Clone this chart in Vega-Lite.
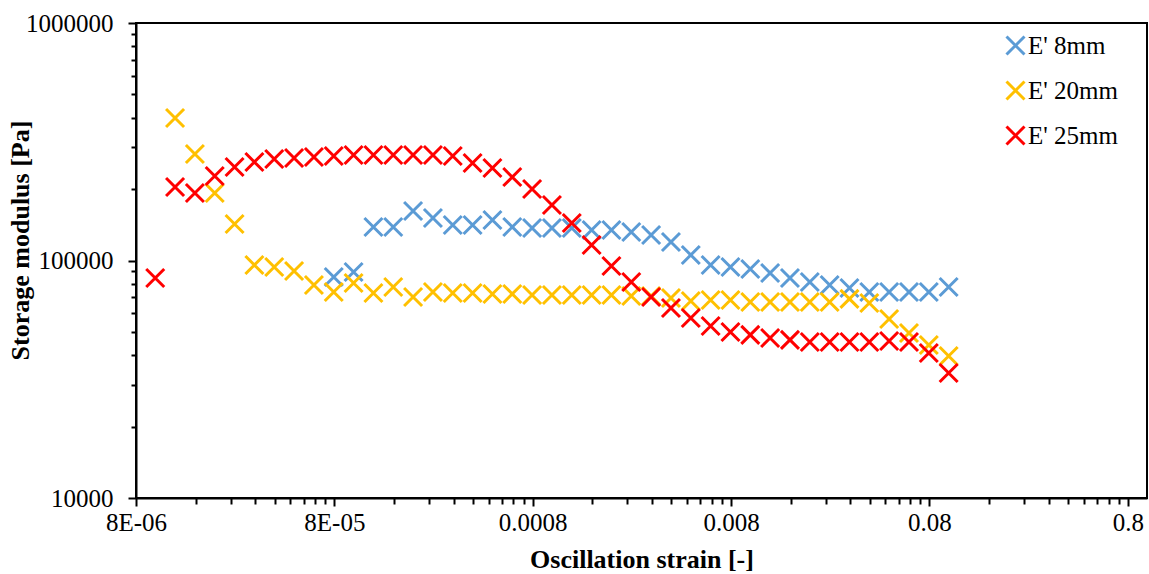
{
  "$schema": "https://vega.github.io/schema/vega-lite/v6.json",
  "width": 1011,
  "height": 475,
  "autosize": "none",
  "padding": {"left": 136, "top": 23, "right": 2, "bottom": 76},
  "background": "white",
  "config": {
    "view": {"stroke": "black", "strokeWidth": 2},
    "font": "Liberation Serif"
  },
  "data": {
    "values": [
      {"s": "E' 8mm", "x": 7.943e-5, "y": 85200},
      {"s": "E' 8mm", "x": 1.000e-4, "y": 89500},
      {"s": "E' 8mm", "x": 1.259e-4, "y": 138400},
      {"s": "E' 8mm", "x": 1.585e-4, "y": 138400},
      {"s": "E' 8mm", "x": 1.995e-4, "y": 161600},
      {"s": "E' 8mm", "x": 2.512e-4, "y": 151000},
      {"s": "E' 8mm", "x": 3.162e-4, "y": 141100},
      {"s": "E' 8mm", "x": 3.981e-4, "y": 141100},
      {"s": "E' 8mm", "x": 5.012e-4, "y": 148100},
      {"s": "E' 8mm", "x": 6.310e-4, "y": 138400},
      {"s": "E' 8mm", "x": 7.943e-4, "y": 137000},
      {"s": "E' 8mm", "x": 1.000e-3, "y": 137000},
      {"s": "E' 8mm", "x": 1.259e-3, "y": 137000},
      {"s": "E' 8mm", "x": 1.585e-3, "y": 134400},
      {"s": "E' 8mm", "x": 1.995e-3, "y": 134400},
      {"s": "E' 8mm", "x": 2.512e-3, "y": 131800},
      {"s": "E' 8mm", "x": 3.162e-3, "y": 128000},
      {"s": "E' 8mm", "x": 3.981e-3, "y": 119600},
      {"s": "E' 8mm", "x": 5.012e-3, "y": 105500},
      {"s": "E' 8mm", "x": 6.310e-3, "y": 95700},
      {"s": "E' 8mm", "x": 7.943e-3, "y": 93900},
      {"s": "E' 8mm", "x": 1.000e-2, "y": 92100},
      {"s": "E' 8mm", "x": 1.259e-2, "y": 88600},
      {"s": "E' 8mm", "x": 1.585e-2, "y": 84400},
      {"s": "E' 8mm", "x": 1.995e-2, "y": 81200},
      {"s": "E' 8mm", "x": 2.512e-2, "y": 78900},
      {"s": "E' 8mm", "x": 3.162e-2, "y": 76600},
      {"s": "E' 8mm", "x": 3.981e-2, "y": 73700},
      {"s": "E' 8mm", "x": 5.012e-2, "y": 73700},
      {"s": "E' 8mm", "x": 6.310e-2, "y": 73700},
      {"s": "E' 8mm", "x": 7.943e-2, "y": 73700},
      {"s": "E' 8mm", "x": 1.000e-1, "y": 77300},
      {"s": "E' 20mm", "x": 1.259e-5, "y": 398100},
      {"s": "E' 20mm", "x": 1.585e-5, "y": 280800},
      {"s": "E' 20mm", "x": 1.995e-5, "y": 192400},
      {"s": "E' 20mm", "x": 2.512e-5, "y": 142400},
      {"s": "E' 20mm", "x": 3.162e-5, "y": 95700},
      {"s": "E' 20mm", "x": 3.981e-5, "y": 93900},
      {"s": "E' 20mm", "x": 5.012e-5, "y": 90300},
      {"s": "E' 20mm", "x": 6.310e-5, "y": 78900},
      {"s": "E' 20mm", "x": 7.943e-5, "y": 73700},
      {"s": "E' 20mm", "x": 1.000e-4, "y": 80400},
      {"s": "E' 20mm", "x": 1.259e-4, "y": 73000},
      {"s": "E' 20mm", "x": 1.585e-4, "y": 77300},
      {"s": "E' 20mm", "x": 1.995e-4, "y": 70200},
      {"s": "E' 20mm", "x": 2.512e-4, "y": 73700},
      {"s": "E' 20mm", "x": 3.162e-4, "y": 73000},
      {"s": "E' 20mm", "x": 3.981e-4, "y": 73000},
      {"s": "E' 20mm", "x": 5.012e-4, "y": 72300},
      {"s": "E' 20mm", "x": 6.310e-4, "y": 72300},
      {"s": "E' 20mm", "x": 7.943e-4, "y": 71600},
      {"s": "E' 20mm", "x": 1.000e-3, "y": 71600},
      {"s": "E' 20mm", "x": 1.259e-3, "y": 71600},
      {"s": "E' 20mm", "x": 1.585e-3, "y": 71600},
      {"s": "E' 20mm", "x": 1.995e-3, "y": 71600},
      {"s": "E' 20mm", "x": 2.512e-3, "y": 70900},
      {"s": "E' 20mm", "x": 3.162e-3, "y": 70900},
      {"s": "E' 20mm", "x": 3.981e-3, "y": 69500},
      {"s": "E' 20mm", "x": 5.012e-3, "y": 67500},
      {"s": "E' 20mm", "x": 6.310e-3, "y": 68200},
      {"s": "E' 20mm", "x": 7.943e-3, "y": 68200},
      {"s": "E' 20mm", "x": 1.000e-2, "y": 66900},
      {"s": "E' 20mm", "x": 1.259e-2, "y": 66900},
      {"s": "E' 20mm", "x": 1.585e-2, "y": 66900},
      {"s": "E' 20mm", "x": 1.995e-2, "y": 66900},
      {"s": "E' 20mm", "x": 2.512e-2, "y": 66900},
      {"s": "E' 20mm", "x": 3.162e-2, "y": 68900},
      {"s": "E' 20mm", "x": 3.981e-2, "y": 66200},
      {"s": "E' 20mm", "x": 5.012e-2, "y": 56700},
      {"s": "E' 20mm", "x": 6.310e-2, "y": 49500},
      {"s": "E' 20mm", "x": 7.943e-2, "y": 44100},
      {"s": "E' 20mm", "x": 1.000e-1, "y": 39600},
      {"s": "E' 25mm", "x": 1.000e-5, "y": 84400},
      {"s": "E' 25mm", "x": 1.259e-5, "y": 204000},
      {"s": "E' 25mm", "x": 1.585e-5, "y": 192400},
      {"s": "E' 25mm", "x": 1.995e-5, "y": 226800},
      {"s": "E' 25mm", "x": 2.512e-5, "y": 247500},
      {"s": "E' 25mm", "x": 3.162e-5, "y": 259800},
      {"s": "E' 25mm", "x": 3.981e-5, "y": 267500},
      {"s": "E' 25mm", "x": 5.012e-5, "y": 270100},
      {"s": "E' 25mm", "x": 6.310e-5, "y": 272800},
      {"s": "E' 25mm", "x": 7.943e-5, "y": 275400},
      {"s": "E' 25mm", "x": 1.000e-4, "y": 278100},
      {"s": "E' 25mm", "x": 1.259e-4, "y": 278100},
      {"s": "E' 25mm", "x": 1.585e-4, "y": 278100},
      {"s": "E' 25mm", "x": 1.995e-4, "y": 278100},
      {"s": "E' 25mm", "x": 2.512e-4, "y": 278100},
      {"s": "E' 25mm", "x": 3.162e-4, "y": 275400},
      {"s": "E' 25mm", "x": 3.981e-4, "y": 257300},
      {"s": "E' 25mm", "x": 5.012e-4, "y": 245200},
      {"s": "E' 25mm", "x": 6.310e-4, "y": 224600},
      {"s": "E' 25mm", "x": 7.943e-4, "y": 200000},
      {"s": "E' 25mm", "x": 1.000e-3, "y": 171300},
      {"s": "E' 25mm", "x": 1.259e-3, "y": 143800},
      {"s": "E' 25mm", "x": 1.585e-3, "y": 116200},
      {"s": "E' 25mm", "x": 1.995e-3, "y": 94800},
      {"s": "E' 25mm", "x": 2.512e-3, "y": 81200},
      {"s": "E' 25mm", "x": 3.162e-3, "y": 70200},
      {"s": "E' 25mm", "x": 3.981e-3, "y": 63100},
      {"s": "E' 25mm", "x": 5.012e-3, "y": 57300},
      {"s": "E' 25mm", "x": 6.310e-3, "y": 53000},
      {"s": "E' 25mm", "x": 7.943e-3, "y": 50000},
      {"s": "E' 25mm", "x": 1.000e-2, "y": 48600},
      {"s": "E' 25mm", "x": 1.259e-2, "y": 47200},
      {"s": "E' 25mm", "x": 1.585e-2, "y": 46300},
      {"s": "E' 25mm", "x": 1.995e-2, "y": 45400},
      {"s": "E' 25mm", "x": 2.512e-2, "y": 45400},
      {"s": "E' 25mm", "x": 3.162e-2, "y": 45400},
      {"s": "E' 25mm", "x": 3.981e-2, "y": 45400},
      {"s": "E' 25mm", "x": 5.012e-2, "y": 45800},
      {"s": "E' 25mm", "x": 6.310e-2, "y": 45400},
      {"s": "E' 25mm", "x": 7.943e-2, "y": 40800},
      {"s": "E' 25mm", "x": 1.000e-1, "y": 33600}
    ]
  },
  "mark": {
    "type": "point",
    "shape": "M-1,-1L1,1M-1,1L1,-1",
    "filled": false,
    "size": 324,
    "strokeWidth": 3,
    "opacity": 1
  },
  "encoding": {
    "x": {
      "field": "x",
      "type": "quantitative",
      "scale": {"type": "log", "domain": [8e-6, 1], "nice": false},
      "axis": {
        "title": "Oscillation strain [-]",
        "titleFont": "Liberation Serif",
        "titleFontSize": 26,
        "titleFontWeight": "bold",
        "titleColor": "black",
        "titlePadding": 11,
        "values": [8e-6, 1.6e-5, 2.4e-5, 3.2e-5, 4e-5, 4.8e-5, 5.6e-5, 6.4e-5, 7.2e-5,
                   8e-5, 1.6e-4, 2.4e-4, 3.2e-4, 4e-4, 4.8e-4, 5.6e-4, 6.4e-4, 7.2e-4,
                   8e-4, 1.6e-3, 2.4e-3, 3.2e-3, 4e-3, 4.8e-3, 5.6e-3, 6.4e-3, 7.2e-3,
                   8e-3, 1.6e-2, 2.4e-2, 3.2e-2, 4e-2, 4.8e-2, 5.6e-2, 6.4e-2, 7.2e-2,
                   8e-2, 0.16, 0.24, 0.32, 0.4, 0.48, 0.56, 0.64, 0.72, 0.8],
        "labelExpr": "abs(log(datum.value/8e-6)/LN10 - round(log(datum.value/8e-6)/LN10)) > 0.01 ? '' : datum.value < 1e-5 ? '8E-06' : datum.value < 1e-4 ? '8E-05' : format(datum.value, '~g')",
        "labelFont": "Liberation Serif",
        "labelFontSize": 25,
        "labelColor": "black",
        "labelFlush": false,
        "labelOverlap": false,
        "labelPadding": 4,
        "grid": false,
        "domainColor": "black",
        "domainWidth": 2,
        "tickColor": "black",
        "tickWidth": 2,
        "tickSize": {"condition": {"test": "abs(log(datum.value/8e-6)/LN10 - round(log(datum.value/8e-6)/LN10)) < 0.01", "value": 8}, "value": 6}
      }
    },
    "y": {
      "field": "y",
      "type": "quantitative",
      "scale": {"type": "log", "domain": [10000, 1000000], "nice": false},
      "axis": {
        "title": "Storage modulus [Pa]",
        "titleFont": "Liberation Serif",
        "titleFontSize": 26,
        "titleFontWeight": "bold",
        "titleColor": "black",
        "titleX": -116,
        "titleY": 217,
        "titleAngle": 270,
        "titleAlign": "center",
        "titleBaseline": "middle",
        "values": [10000, 20000, 30000, 40000, 50000, 60000, 70000, 80000, 90000,
                   100000, 200000, 300000, 400000, 500000, 600000, 700000, 800000, 900000, 1000000],
        "labelExpr": "(datum.value == 10000 || datum.value == 100000 || datum.value == 1000000) ? format(datum.value, 'd') : ''",
        "labelFont": "Liberation Serif",
        "labelFontSize": 25,
        "labelColor": "black",
        "labelFlush": false,
        "labelOverlap": false,
        "labelPadding": 15,
        "grid": false,
        "domainColor": "black",
        "domainWidth": 2,
        "tickColor": "black",
        "tickWidth": 2,
        "tickSize": {"condition": {"test": "datum.value == 10000 || datum.value == 100000 || datum.value == 1000000", "value": 8}, "value": 5}
      }
    },
    "color": {
      "field": "s",
      "type": "nominal",
      "sort": ["E' 8mm", "E' 20mm", "E' 25mm"],
      "scale": {"domain": ["E' 8mm", "E' 20mm", "E' 25mm"], "range": ["#5B9BD5", "#FFC000", "#FF0000"]},
      "legend": {
        "title": null,
        "orient": "none",
        "legendX": 867,
        "legendY": 10,
        "padding": 0,
        "symbolType": "M-1,-1L1,1M-1,1L1,-1",
        "symbolSize": 324,
        "symbolStrokeWidth": 3,
        "symbolFillColor": "transparent",
        "labelFont": "Liberation Serif",
        "labelFontSize": 25,
        "labelColor": "black",
        "labelOffset": 0,
        "rowPadding": 14,
        "labelLimit": 300
      }
    }
  }
}
